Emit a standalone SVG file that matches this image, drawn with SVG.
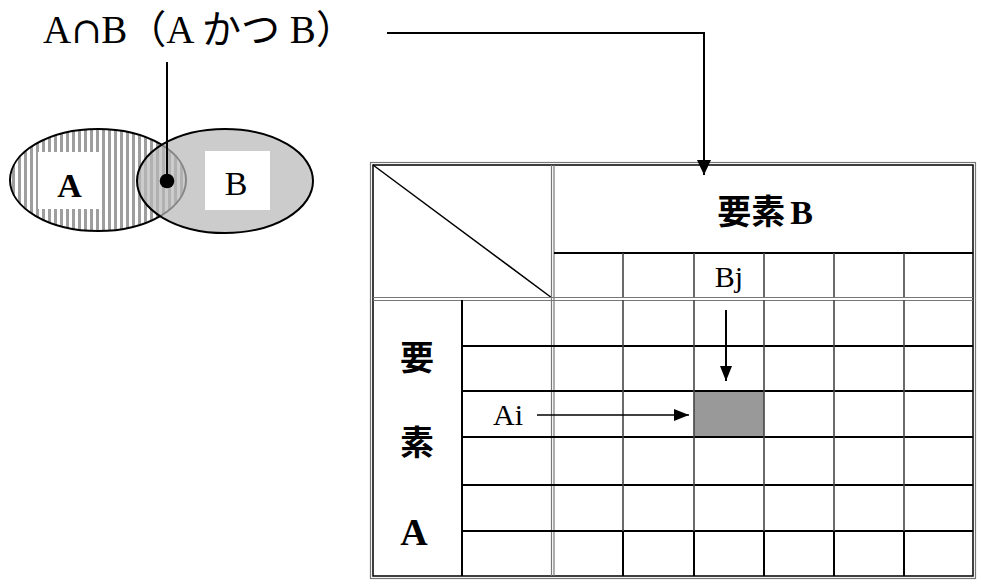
<svg xmlns="http://www.w3.org/2000/svg" width="981" height="586" viewBox="0 0 981 586">
<defs>
<style>
.serif{font-family:'Liberation Serif','Noto Sans CJK JP',serif;}
.cjk{font-family:'Noto Sans CJK JP','Liberation Sans',sans-serif;}
.ln{stroke:#000;stroke-width:2;fill:none;}
.thin{stroke:#000;stroke-width:1.5;fill:none;}
.gr{stroke:#777;stroke-width:1.2;fill:none;}
.vg{stroke:#444;stroke-width:1.6;fill:none;}
</style>
<pattern id="stripes" width="6" height="10" patternUnits="userSpaceOnUse">
<rect x="0" y="0" width="6" height="10" fill="#fff"/>
<rect x="0" y="0" width="3" height="10" fill="#9e9e9e"/>
</pattern>
<marker id="ah" viewBox="0 0 15 14" refX="15" refY="7" markerWidth="15" markerHeight="14" markerUnits="userSpaceOnUse" orient="auto">
<path d="M0,0L15,7L0,14z" fill="#000"/>
</marker>
<marker id="ahs" viewBox="0 0 15 12" refX="15" refY="6" markerWidth="15" markerHeight="12" markerUnits="userSpaceOnUse" orient="auto">
<path d="M0,0L15,6L0,12z" fill="#000"/>
</marker>
</defs>
<rect width="981" height="586" fill="#fff"/>

<g id="title">
<text class="serif" x="43" y="43" font-size="39">A<tspan font-family="'DejaVu Serif','Liberation Serif',serif" font-size="36">∩</tspan>B（A かつ B）</text>
</g>

<g id="venn">
<ellipse id="setA" cx="98" cy="180" rx="88" ry="51" fill="url(#stripes)" stroke="#000" stroke-width="2"/>
<ellipse id="setB" cx="225" cy="181" rx="88" ry="52" fill="#b8b8b8" fill-opacity="0.72" stroke="#000" stroke-width="2"/>
<g id="labelA">
<rect x="38" y="152" width="63" height="57" fill="#fff"/>
<text class="serif" x="69.5" y="197" font-size="34" font-weight="bold" text-anchor="middle">A</text>
</g>
<g id="labelB">
<rect x="205" y="151" width="65" height="59" fill="#fff"/>
<text class="serif" x="236" y="195" font-size="34" text-anchor="middle">B</text>
</g>
<circle id="dot" cx="167" cy="181" r="7.3" fill="#000"/>
</g>

<g id="table">
<rect x="694" y="391" width="70" height="46" fill="#999"/>
<rect class="gr" x="370.5" y="162.5" width="605" height="416"/>
<rect class="thin" x="373" y="165" width="600" height="411" stroke="#222"/>
<line class="thin" x1="373" y1="165" x2="552" y2="298"/>
<line class="gr" x1="551.5" y1="165" x2="551.5" y2="576"/>
<line class="gr" x1="554" y1="165" x2="554" y2="576"/>
<line class="gr" x1="373" y1="297.5" x2="973" y2="297.5"/>
<line class="gr" x1="373" y1="300.5" x2="973" y2="300.5"/>
<line class="ln" x1="554" y1="253" x2="973" y2="253"/>
<g id="bjrow">
<line class="vg" x1="623" y1="253" x2="623" y2="297"/>
<line class="vg" x1="694" y1="253" x2="694" y2="297"/>
<line class="vg" x1="764" y1="253" x2="764" y2="297"/>
<line class="vg" x1="834" y1="253" x2="834" y2="297"/>
<line class="vg" x1="904" y1="253" x2="904" y2="297"/>
</g>
<line class="ln" x1="462" y1="300" x2="462" y2="576"/>
<g id="rows">
<line class="ln" x1="462" y1="346" x2="973" y2="346"/>
<line class="ln" x1="462" y1="391" x2="973" y2="391"/>
<line class="ln" x1="462" y1="437" x2="973" y2="437"/>
<line class="ln" x1="462" y1="485" x2="973" y2="485"/>
<line class="ln" x1="462" y1="531" x2="973" y2="531"/>
</g>
<g id="cols">
<line class="vg" x1="623" y1="300" x2="623" y2="531"/>
<line class="vg" x1="694" y1="300" x2="694" y2="531"/>
<line class="vg" x1="764" y1="300" x2="764" y2="531"/>
<line class="vg" x1="834" y1="300" x2="834" y2="531"/>
<line class="vg" x1="904" y1="300" x2="904" y2="531"/>
<line class="ln" x1="623" y1="531" x2="623" y2="576"/>
<line class="ln" x1="694" y1="531" x2="694" y2="576"/>
<line class="ln" x1="764" y1="531" x2="764" y2="576"/>
<line class="ln" x1="834" y1="531" x2="834" y2="576"/>
<line class="ln" x1="904" y1="531" x2="904" y2="576"/>
</g>
<g id="headerB">
<text class="cjk" x="765" y="224" font-size="34" font-weight="bold" text-anchor="middle">要素<tspan class="serif" dx="5">B</tspan></text>
</g>
<g id="headerA">
<text class="cjk" x="417" y="370" font-size="34" font-weight="bold" text-anchor="middle">要</text>
<text class="cjk" x="417" y="455" font-size="34" font-weight="bold" text-anchor="middle">素</text>
<text class="serif" x="414" y="545" font-size="38" font-weight="bold" text-anchor="middle">A</text>
</g>
<g id="Bj"><text class="serif" x="729" y="287" font-size="30" text-anchor="middle">Bj</text></g>
<g id="Ai"><text class="serif" x="508" y="425" font-size="30" text-anchor="middle">Ai</text></g>
</g>

<g id="connectors">
<polyline class="ln" points="387,33 704,33 704,175" marker-end="url(#ah)"/>
<line class="ln" x1="167" y1="62" x2="167" y2="181"/>
<line class="ln" x1="726" y1="310" x2="726" y2="381" marker-end="url(#ahs)"/>
<line class="thin" x1="537" y1="415" x2="689" y2="415" marker-end="url(#ahs)"/>
</g>
</svg>
